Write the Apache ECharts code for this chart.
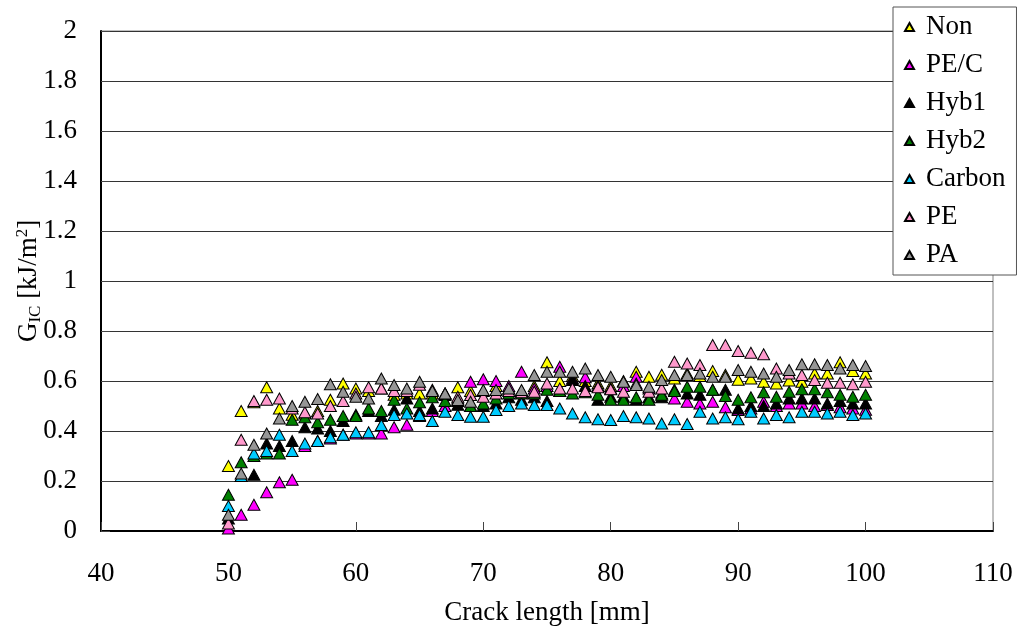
<!DOCTYPE html>
<html>
<head>
<meta charset="utf-8">
<title>GIC vs crack length</title>
<script src="https://cdn.jsdelivr.net/npm/echarts@6.0.0/dist/echarts.min.js"></script>
<style>
  html, body { margin: 0; padding: 0; background: #fff; }
  #chart { width: 1027px; height: 631px; }
</style>
</head>
<body>
<div id="chart"></div>
<script>
// Crack length positions [mm]
const crackLength = [50,51,52,53,54,55,56,57,58,59,60,61,62,63,64,65,66,67,68,69,70,71,72,73,74,75,76,77,78,79,80,81,82,83,84,85,86,87,88,89,90,91,92,93,94,95,96,97,98,99,100];

// Fracture toughness GIC [kJ/m^2] per specimen type
const nonData = [0.26,0.48,0.515,0.575,0.49, 0.465,0.47,0.48,0.525,0.59, 0.57,0.56,0.57,0.545,0.55, 0.55,0.55,0.55,0.575,0.56, 0.56,0.58,0.57,0.56,0.58, 0.675,0.60,0.62,0.60,0.59, 0.58,0.60,0.637,0.617,0.625, 0.61,0.63,0.62,0.64,0.625, 0.605,0.61,0.597,0.59,0.602, 0.597,0.63,0.63,0.675,0.64, 0.63];
const peCData = [0.01,0.065,0.105,0.155,0.195, 0.205,0.34,0.36,0.37,0.385, 0.39,0.39,0.39,0.415,0.425, 0.46,0.48,0.50,0.53,0.597, 0.607,0.60,0.58,0.637,0.57, 0.58,0.657,0.61,0.615,0.58, 0.57,0.58,0.617,0.57,0.55, 0.53,0.517,0.51,0.517,0.495, 0.484,0.49,0.517,0.50,0.51, 0.51,0.50,0.504,0.495,0.49, 0.485];
const hyb1Data = [0.05,0.22,0.225,0.35,0.34, 0.36,0.415,0.41,0.40,0.44, 0.465,0.48,0.46,0.485,0.53, 0.48,0.49,0.544,0.505,0.50, 0.50,0.51,0.535,0.525,0.535, 0.52,0.56,0.604,0.58,0.525, 0.537,0.537,0.525,0.535,0.535, 0.565,0.55,0.545,0.565,0.565, 0.49,0.50,0.50,0.51,0.53, 0.53,0.53,0.51,0.52,0.51, 0.51];
const hyb2Data = [0.145,0.275,0.30,0.31,0.31, 0.445,0.455,0.435,0.445,0.46, 0.46,0.49,0.48,0.525,0.49, 0.515,0.535,0.52,0.52,0.50, 0.51,0.53,0.55,0.55,0.55, 0.565,0.56,0.55,0.555,0.545, 0.525,0.525,0.535,0.525,0.545, 0.56,0.577,0.577,0.565,0.54, 0.525,0.535,0.555,0.537,0.557, 0.567,0.567,0.555,0.545,0.537, 0.545];
const carbonData = [0.10,0.22,0.31,0.32,0.385, 0.32,0.35,0.36,0.375,0.385, 0.395,0.395,0.424,0.464,0.47, 0.464,0.44,0.477,0.464,0.457, 0.457,0.484,0.50,0.51,0.504, 0.504,0.49,0.47,0.455,0.447, 0.444,0.46,0.455,0.45,0.43, 0.447,0.428,0.477,0.45,0.455, 0.447,0.477,0.45,0.464,0.455, 0.477,0.477,0.47,0.477,0.464, 0.47];
const peData = [0.03,0.365,0.52,0.525,0.53, 0.49,0.475,0.47,0.50,0.52, 0.55,0.575,0.57,0.56,0.56, 0.585,0.565,0.55,0.537,0.544, 0.537,0.55,0.56,0.555,0.557, 0.59,0.57,0.57,0.56,0.575, 0.567,0.557,0.59,0.557,0.57, 0.677,0.67,0.664,0.744,0.744, 0.72,0.713,0.707,0.65,0.63, 0.624,0.604,0.593,0.593,0.587, 0.597];
const paData = [0.065,0.23,0.345,0.39,0.45, 0.50,0.517,0.528,0.587,0.557, 0.537,0.53,0.61,0.584,0.57, 0.597,0.56,0.55,0.524,0.517, 0.564,0.564,0.57,0.564,0.624, 0.637,0.637,0.637,0.65,0.624, 0.617,0.597,0.584,0.577,0.604, 0.624,0.624,0.63,0.617,0.617, 0.644,0.637,0.63,0.617,0.644, 0.667,0.667,0.664,0.65,0.664, 0.66];

const seriesNames = ['Non', 'PE/C', 'Hyb1', 'Hyb2', 'Carbon', 'PE', 'PA'];
const seriesValues = [nonData, peCData, hyb1Data, hyb2Data, carbonData, peData, paData];
const seriesColors = ['#FFFF00', '#FF00FF', '#000000', '#008000', '#00CCFF', '#FF99CC', '#969696'];

const FONT = 'Liberation Serif, Times New Roman, serif';

const chart = echarts.init(document.getElementById('chart'), null, { renderer: 'canvas' });

const series = seriesNames.map((name, i) => ({
  name: name,
  type: 'scatter',
  symbol: 'triangle',
  symbolSize: [12, 11],
  data: crackLength.map((x, j) => [x, seriesValues[i][j]]),
  itemStyle: { color: seriesColors[i], borderColor: '#000', borderWidth: 1, opacity: 1 },
  emphasis: { disabled: true }
}));

chart.setOption({
  animation: false,
  backgroundColor: '#fff',
  grid: {
    left: 101, right: 34, top: 31, bottom: 100,
    outerBoundsMode: 'none',
    containLabel: false,
    show: true, borderColor: '#808080', borderWidth: 1, backgroundColor: '#fff'
  },
  legend: {
    orient: 'vertical',
    left: 893, top: 7,
    padding: [5, 11, 5, 11],
    itemGap: 8,
    itemWidth: 9, itemHeight: 8,
    borderColor: '#555', borderWidth: 1,
    backgroundColor: '#fff',
    data: seriesNames,
    textStyle: { fontFamily: FONT, fontSize: 27, color: '#000', lineHeight: 30, padding: [0, 0, 0, 7] }
  },
  xAxis: {
    type: 'value',
    min: 40, max: 110, interval: 10,
    name: 'Crack length [mm]',
    nameLocation: 'middle',
    nameGap: 68,
    nameMoveOverlap: false,
    nameTextStyle: { fontFamily: FONT, fontSize: 27, color: '#000' },
    axisLine: { show: true, lineStyle: { color: '#000', width: 2 } },
    axisTick: { show: true, inside: true, length: 9, lineStyle: { color: '#444', width: 1 } },
    axisLabel: { fontFamily: FONT, fontSize: 27, color: '#000', margin: 29 },
    splitLine: { show: false }
  },
  yAxis: {
    type: 'value',
    min: 0, max: 2, interval: 0.2,
    name: '{g|G}{sub|IC}{n| [kJ/m}{sup|2}{n|]}',
    nameLocation: 'middle',
    nameRotate: 90,
    nameGap: 57,
    nameMoveOverlap: false,
    nameTextStyle: {
      fontFamily: FONT, fontSize: 27, color: '#000',
      rich: {
        g: { fontFamily: FONT, fontSize: 27, color: '#000', lineHeight: 30 },
        n: { fontFamily: FONT, fontSize: 27, color: '#000', lineHeight: 30 },
        sub: { fontFamily: FONT, fontSize: 17, color: '#000', lineHeight: 14, verticalAlign: 'bottom' },
        sup: { fontFamily: FONT, fontSize: 17, color: '#000', lineHeight: 18, verticalAlign: 'top' }
      }
    },
    axisLine: { show: true, lineStyle: { color: '#000', width: 2 } },
    axisTick: { show: true, inside: true, length: 9, lineStyle: { color: '#444', width: 1 } },
    axisLabel: {
      fontFamily: FONT, fontSize: 27, color: '#000', margin: 24,
      formatter: v => String(+v.toFixed(1))
    },
    splitLine: { show: true, lineStyle: { color: '#333', width: 1 } }
  },
  series: series
});
</script>
</body>
</html>
